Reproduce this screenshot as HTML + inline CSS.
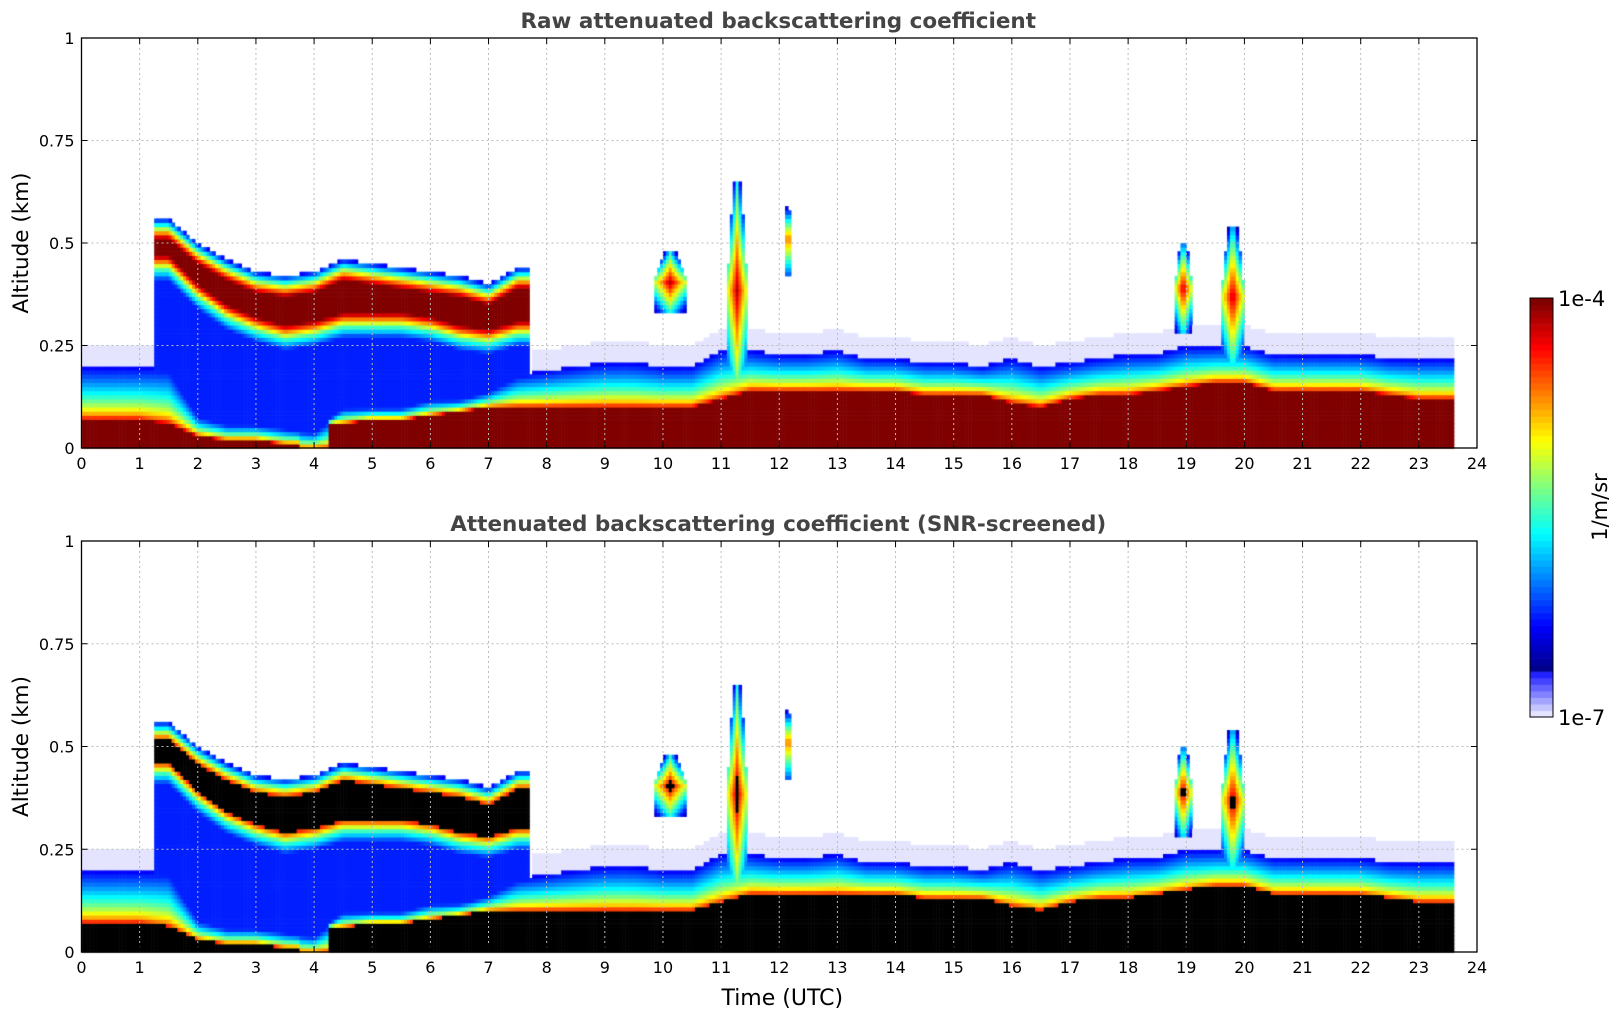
<!DOCTYPE html>
<html><head><meta charset="utf-8">
<style>
html,body{margin:0;padding:0;background:#fff;width:1621px;height:1020px;overflow:hidden;font-family:"DejaVu Sans","Liberation Sans",sans-serif}
canvas{position:absolute;left:0;top:0}
svg{position:absolute;left:0;top:0}
</style></head>
<body>
<canvas id="cv" width="1621" height="1020"></canvas>
<svg id="sv" width="1621" height="1020" font-family="DejaVu Sans, Liberation Sans, sans-serif"></svg>
<script>
// ---- data (samples every 0.5 h, altitudes in km) ----
const sampleTimes = [0,0.5,1,1.5,2,2.5,3,3.5,4,4.5,5,5.5,6,6.5,7,7.5,8,8.5,9,9.5,10,10.5,11,11.5,12,12.5,13,13.5,14,14.5,15,15.5,16,16.5,17,17.5,18,18.5,19,19.5,20,20.5,21,21.5,22,22.5,23,23.5];
const groundCore = [0.07,0.07,0.07,0.06,0.03,0.02,0.02,0.01,0.0,0.06,0.07,0.07,0.08,0.09,0.1,0.1,0.1,0.1,0.1,0.1,0.1,0.1,0.12,0.14,0.14,0.14,0.14,0.14,0.14,0.13,0.13,0.13,0.11,0.1,0.12,0.13,0.13,0.14,0.15,0.16,0.16,0.14,0.14,0.14,0.14,0.13,0.12,0.12];
const blTop = [0.2,0.2,0.2,0.2,0.08,0.06,0.06,0.05,0.04,0.1,0.1,0.1,0.12,0.12,0.14,0.18,0.19,0.2,0.21,0.21,0.2,0.2,0.24,0.24,0.23,0.23,0.24,0.22,0.22,0.21,0.21,0.2,0.22,0.2,0.21,0.22,0.23,0.23,0.25,0.25,0.25,0.23,0.23,0.23,0.23,0.22,0.22,0.22];
const elevTop = [0,0,0,0.56,0.5,0.46,0.43,0.42,0.43,0.46,0.45,0.44,0.43,0.42,0.4,0.44,0,0,0,0,0,0,0,0,0,0,0,0,0,0,0,0,0,0,0,0,0,0,0,0,0,0,0,0,0,0,0,0];
const elevBot = [0,0,0,0.44,0.37,0.32,0.29,0.27,0.28,0.3,0.3,0.3,0.29,0.27,0.26,0.28,0,0,0,0,0,0,0,0,0,0,0,0,0,0,0,0,0,0,0,0,0,0,0,0,0,0,0,0,0,0,0,0];
const lavender = [1,1,1,1,0,0,0,0,0,0,0,0,0,0,0,0,1,1,1,1,1,1,1,1,1,1,1,1,1,1,1,1,1,1,1,1,1,1,1,1,1,1,1,1,1,1,1,1];
const cloudStart = [9.85,11.1,12.1,18.8,19.6];
const cloudEnd = [10.4,11.45,12.2,19.1,20.0];
const cloudBase = [0.33,0.12,0.42,0.28,0.2];
const cloudTop = [0.48,0.65,0.6,0.5,0.54];
const timeRange = [0,23.6];
const xTicks = [0,1,2,3,4,5,6,7,8,9,10,11,12,13,14,15,16,17,18,19,20,21,22,23,24];
const yTicks = [0,0.25,0.5,0.75,1];
const yTickLabels = ['0','0.25','0.5','0.75','1'];
const cbarLabels = ['1e-4','1e-7'];

const X0=81.5, X1=1477;
const panels=[{top:38,bot:448,title:'Raw attenuated backscattering coefficient',screen:false},
              {top:541,bot:952,title:'Attenuated backscattering coefficient (SNR-screened)',screen:true}];
const xs = t => X0 + (t/24)*(X1-X0);

function interp(arr,t){
  const i=Math.min(sampleTimes.length-1,Math.max(0,Math.floor(t/0.5)));
  const j=Math.min(sampleTimes.length-1,i+1);
  const f=Math.max(0,Math.min(1,(t-sampleTimes[i])/0.5));
  if(arr[i]===0||arr[j]===0) return arr[i]===0&&arr[j]===0?0:(f<0.5?arr[i]:arr[j]);
  return arr[i]*(1-f)+arr[j]*f;
}
function value(t,z){
  let v=-1;
  const gc=interp(groundCore,t), bt=interp(blTop,t);
  if(z<gc) v=1;
  else if(z<bt) v=1-0.8*Math.sqrt((z-gc)/Math.max(0.001,bt-gc));
  else if(z<bt+0.05 && lavender[Math.min(47,Math.round(t/0.5))]) v=0.0;
  if(t>=1.2&&t<=7.7){
    const et=interp(elevTop,t), eb=interp(elevBot,t);
    if(et>0){
      if(z<=et&&z>=eb){const d=et-z, db=z-eb; let vv=1;
        if(d<0.05) vv=1-0.8*(1-d/0.05);
        if(db<0.03) vv=Math.min(vv,0.55+0.45*db/0.03);
        v=Math.max(v,vv);}
      else if(z<eb){const w=Math.max(0,1-(eb-z)/0.03); v=Math.max(v,0.24+0.3*w);}
    }
  }
  for(let k=0;k<cloudStart.length;k++){
    if(z>=cloudBase[k]&&z<=cloudTop[k]){
      const mid=(cloudBase[k]+cloudTop[k])/2, h=(cloudTop[k]-cloudBase[k])/2;
      const frac=Math.abs(z-mid)/h;
      const cx=(cloudStart[k]+cloudEnd[k])/2, hw=(cloudEnd[k]-cloudStart[k])/2*(1-0.6*Math.max(0,(z-mid)/h));
      if(Math.abs(t-cx)<=hw){
        const fx=Math.abs(t-cx)/hw;
        v=Math.max(v,0.95-0.5*frac-0.35*fx);
      }
    }
  }
  return v;
}
function jet(v){
  if(v<0.1){ const a=v/0.1; return [Math.round(228-203*a),Math.round(228-203*a),255]; }
  const x=(v-0.1)/0.9;
  const r=Math.min(1,Math.max(0,Math.min(4*x-1.5,-4*x+4.5)));
  const g=Math.min(1,Math.max(0,Math.min(4*x-0.5,-4*x+3.5)));
  const b=Math.min(1,Math.max(0,Math.min(4*x+0.5,-4*x+2.5)));
  return [Math.round(r*255),Math.round(g*255),Math.round(b*255)];
}
const cv=document.getElementById('cv'), ctx=cv.getContext('2d');
const dt=0.05, dz=0.01;
panels.forEach(p=>{
  const ys=z=>p.bot-(z)*(p.bot-p.top);
  for(let t=timeRange[0];t<timeRange[1]-1e-6;t+=dt){
    for(let z=0;z<1;z+=dz){
      const v=value(t+dt/2,z+dz/2);
      if(v<0) continue;
      let c=jet(Math.min(1,v));
      if(p.screen&&v>0.86) c=[0,0,0];
      ctx.fillStyle='rgb('+c.join(',')+')';
      ctx.fillRect(xs(t),ys(z+dz),xs(t+dt)-xs(t)+0.6,ys(z)-ys(z+dz)+0.6);
    }
  }
});
// colorbar
const CB={x:1530,w:23,top:298,bot:717};
for(let i=0;i<64;i++){
  const v=i/63, c=jet(v);
  ctx.fillStyle='rgb('+c.join(',')+')';
  const y0=CB.bot-(i+1)/64*(CB.bot-CB.top);
  ctx.fillRect(CB.x,y0,CB.w,(CB.bot-CB.top)/64+0.6);
}

const NS='http://www.w3.org/2000/svg', sv=document.getElementById('sv');
function mk(tag,attrs,parent){const e=document.createElementNS(NS,tag);for(const k in attrs)e.setAttribute(k,attrs[k]);(parent||sv).appendChild(e);return e;}
panels.forEach((p,pi)=>{
  const g=mk('g',{});
  
  
  const ys=z=>p.bot-z*(p.bot-p.top);
  xTicks.forEach(t=>{
    const x=xs(t);
    if(t>0&&t<24){const l=mk('line',{x1:x,x2:x,y1:p.top,y2:p.bot,stroke:'#bbb','stroke-width':1,'stroke-dasharray':'2,3'},g);
      
      }
    mk('line',{x1:x,x2:x,y1:p.bot,y2:p.bot-6,stroke:'#000','stroke-width':1},g);
    mk('line',{x1:x,x2:x,y1:p.top,y2:p.top+6,stroke:'#000','stroke-width':1},g);
    const tx=mk('text',{x:x,y:p.bot+21,'text-anchor':'middle','font-size':16,fill:'#000'},g);
    tx.textContent=t;
    
    
  });
  yTicks.forEach((z,i)=>{
    const y=ys(z);
    if(z>0&&z<1){const l=mk('line',{x1:X0,x2:X1,y1:y,y2:y,stroke:'#bbb','stroke-width':1,'stroke-dasharray':'2,3'},g);
      
      }
    mk('line',{x1:X0,x2:X0+6,y1:y,y2:y,stroke:'#000'},g);
    mk('line',{x1:X1,x2:X1-6,y1:y,y2:y,stroke:'#000'},g);
    const tx=mk('text',{x:X0-7,y:y+6,'text-anchor':'end','font-size':16,fill:'#000'},g);
    tx.textContent=yTickLabels[i];
    
    
  });
  const fr=mk('rect',{x:X0,y:p.top,width:X1-X0,height:p.bot-p.top,fill:'none',stroke:'#000','stroke-width':1.3},g);
  
  
  const ti=mk('text',{x:(X0+X1)/2-1,y:p.top-10,'text-anchor':'middle','font-size':21.5,'font-weight':'bold',fill:'#444'},g);
  ti.textContent=p.title;
  
  
  const yl=mk('text',{x:0,y:0,'text-anchor':'middle','font-size':21.5,fill:'#000',transform:'translate(28,'+((p.top+p.bot)/2)+') rotate(-90)'},g);
  yl.textContent='Altitude (km)';
  
  
});
const xl=mk('text',{x:(X0+X1)/2+3,y:1005,'text-anchor':'middle','font-size':22,fill:'#000'});
xl.textContent='Time (UTC)';


const cb=mk('rect',{x:CB.x,y:CB.top,width:CB.w,height:CB.bot-CB.top,fill:'none',stroke:'#000','stroke-width':1});


const c1=mk('text',{x:CB.x+28,y:CB.top+8,'font-size':21,fill:'#000'});
c1.textContent=cbarLabels[0];


const c2=mk('text',{x:CB.x+28,y:CB.bot+8,'font-size':21,fill:'#000'});
c2.textContent=cbarLabels[1];


const cu=mk('text',{x:0,y:0,'text-anchor':'middle','font-size':21,fill:'#000',transform:'translate(1607,507) rotate(-90)'});
cu.textContent='1/m/sr';


</script>
</body></html>
